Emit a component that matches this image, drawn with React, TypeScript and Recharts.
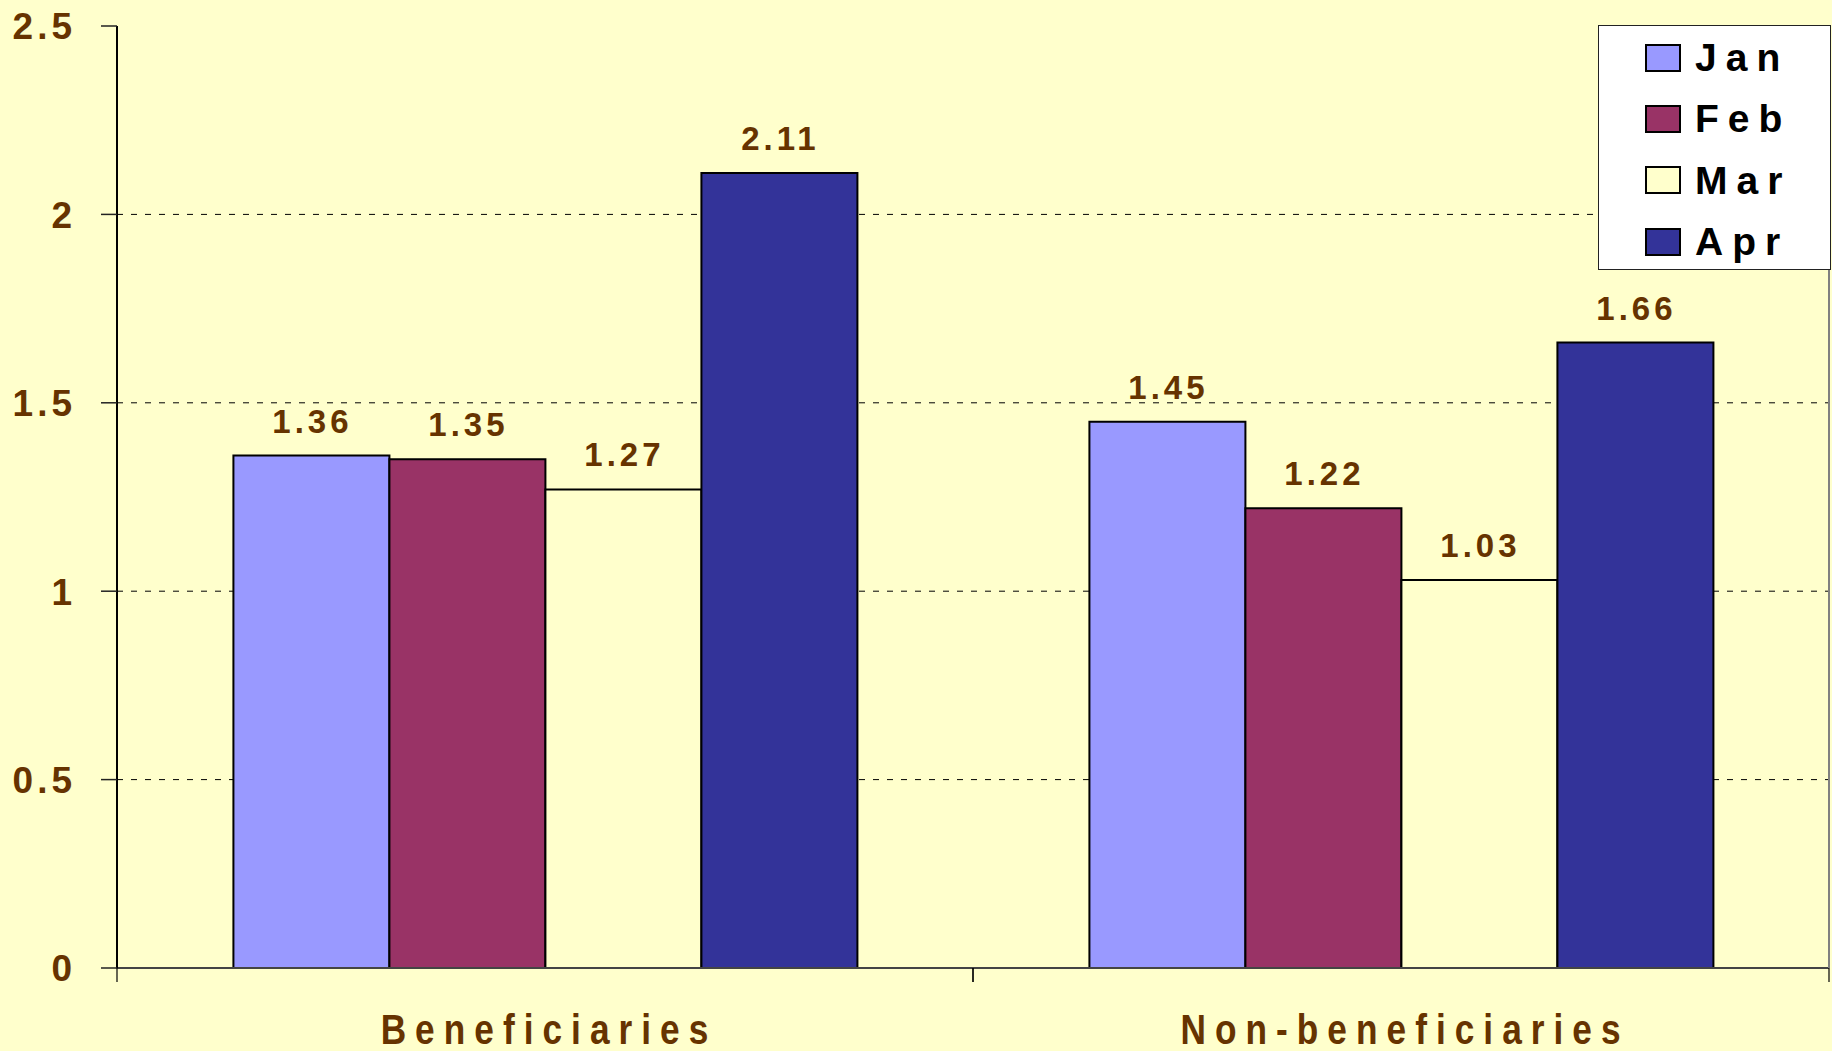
import React from 'react';
import { BarChart, Bar, XAxis, YAxis, CartesianGrid, Legend, LabelList } from 'recharts';

const categories = ['Beneficiaries', 'Non-beneficiaries'];
const months = ['Jan', 'Feb', 'Mar', 'Apr'];
const janValues = [1.36, 1.45];
const febValues = [1.35, 1.22];
const marValues = [1.27, 1.03];
const aprValues = [2.11, 1.66];
const yTicks = [0, 0.5, 1, 1.5, 2, 2.5];
const gridValues = [0.5, 1, 1.5, 2];

const COLORS = ['#9999FF', '#993366', '#FFFFCC', '#333399'];
const BROWN = '#663300';
const BG = '#FFFFCC';
const FONT = '"Liberation Sans", Arial, sans-serif';

// chart geometry
const W = 1832;
const H = 1051;
const TOP = 26;
const X_AXIS_H = 83;
const Y_AXIS_W = 117;
const RIGHT_W = 3;
const PLOT_BOTTOM = H - X_AXIS_H;
const BAND = (W - Y_AXIS_W - RIGHT_W) / categories.length;

const series = [janValues, febValues, marValues, aprValues];
const data = categories.map((name, i) => {
  const row: Record<string, string | number> = { name };
  months.forEach((m, j) => {
    row[m] = series[j][i];
  });
  return row;
});

const YTick = (props: any) => {
  const { y, payload } = props;
  return (
    <text x={76} y={y} dy="0.36em" textAnchor="end" fill={BROWN} fontFamily={FONT} fontWeight="bold" fontSize={37} letterSpacing={4}>
      {payload.value}
    </text>
  );
};

// the original uses a condensed bold face, so squeeze the regular one horizontally
const SQUEEZE = 0.82;

const CategoryTick = (props: any) => {
  const { x, payload } = props;
  const cx = x + 4;
  return (
    <g>
      <line x1={x - BAND / 2} x2={x - BAND / 2} y1={PLOT_BOTTOM} y2={PLOT_BOTTOM + 14} stroke="#000" strokeWidth={1.2} />
      <line x1={x + BAND / 2} x2={x + BAND / 2} y1={PLOT_BOTTOM} y2={PLOT_BOTTOM + 14} stroke="#000" strokeWidth={1.2} />
      <text
        x={0}
        y={1044}
        transform={`translate(${cx},0) scale(${SQUEEZE},1)`}
        textAnchor="middle"
        fill={BROWN}
        fontFamily={FONT}
        fontWeight="bold"
        fontSize={43}
        letterSpacing={11}
      >
        {payload.value}
      </text>
    </g>
  );
};

const ValueLabel = (props: any) => {
  const { x, y, width, value } = props;
  return (
    <text x={x + width / 2 + 1} y={y - 23} textAnchor="middle" fill={BROWN} fontFamily={FONT} fontWeight="bold" fontSize={33} letterSpacing={4}>
      {Number(value).toFixed(2)}
    </text>
  );
};

const LegendBox = (props: any) => {
  const payload = [...(props.payload || [])].sort(
    (a: any, b: any) => months.indexOf(a.value) - months.indexOf(b.value)
  );
  return (
    <div
      style={{
        width: 233,
        height: 245,
        boxSizing: 'border-box',
        background: '#fff',
        border: '1.5px solid #222',
        paddingTop: 1,
      }}
    >
      {payload.map((entry: any) => (
        <div key={entry.value} style={{ display: 'flex', alignItems: 'center', height: 61.3 }}>
          <span
            style={{
              display: 'inline-block',
              width: 36,
              height: 28,
              marginLeft: 46,
              boxSizing: 'border-box',
              background: entry.color,
              border: '2px solid #000',
            }}
          />
          <span style={{ marginLeft: 14, fontFamily: FONT, fontWeight: 'bold', fontSize: 39, letterSpacing: 9, color: '#000', lineHeight: 1 }}>
            {entry.value}
          </span>
        </div>
      ))}
    </div>
  );
};

export default function App() {
  return (
    <div style={{ position: 'absolute', left: 0, top: 0, width: W, height: H, background: BG, overflow: 'hidden' }}>
      <BarChart
        width={W}
        height={H}
        data={data}
        margin={{ top: TOP, right: 0, bottom: 0, left: 0 }}
        barCategoryGap="13.6%"
        barGap={0}
      >
        <CartesianGrid vertical={false} horizontalValues={gridValues} stroke="#000" strokeDasharray="6 8" strokeWidth={1} />
        <XAxis xAxisId="top" dataKey="name" orientation="top" height={0} tick={false} tickLine={false} axisLine={{ stroke: '#808080', strokeWidth: 2.5 }} />
        <XAxis
          dataKey="name"
          height={X_AXIS_H}
          tick={<CategoryTick />}
          tickLine={false}
          axisLine={{ stroke: '#444', strokeWidth: 2 }}
          interval={0}
        />
        <YAxis
          domain={[0, 2.5]}
          ticks={yTicks}
          width={Y_AXIS_W}
          tick={<YTick />}
          tickSize={16}
          tickLine={{ stroke: '#222', strokeWidth: 1.5 }}
          axisLine={{ stroke: '#000', strokeWidth: 2 }}
          interval={0}
        />
        <YAxis yAxisId="right" orientation="right" width={RIGHT_W} tick={false} tickLine={false} axisLine={{ stroke: '#808080', strokeWidth: 2 }} />
        <Legend
          content={<LegendBox />}
          layout="horizontal"
          verticalAlign="middle"
          align="center"
          wrapperStyle={{ left: 1598, top: 25, width: 233, height: 245 }}
        />
        {months.map((m, j) => (
          <Bar key={m} dataKey={m} name={m} fill={COLORS[j]} stroke="#000" strokeWidth={2} isAnimationActive={false}>
            <LabelList dataKey={m} content={<ValueLabel />} />
          </Bar>
        ))}
      </BarChart>
    </div>
  );
}
